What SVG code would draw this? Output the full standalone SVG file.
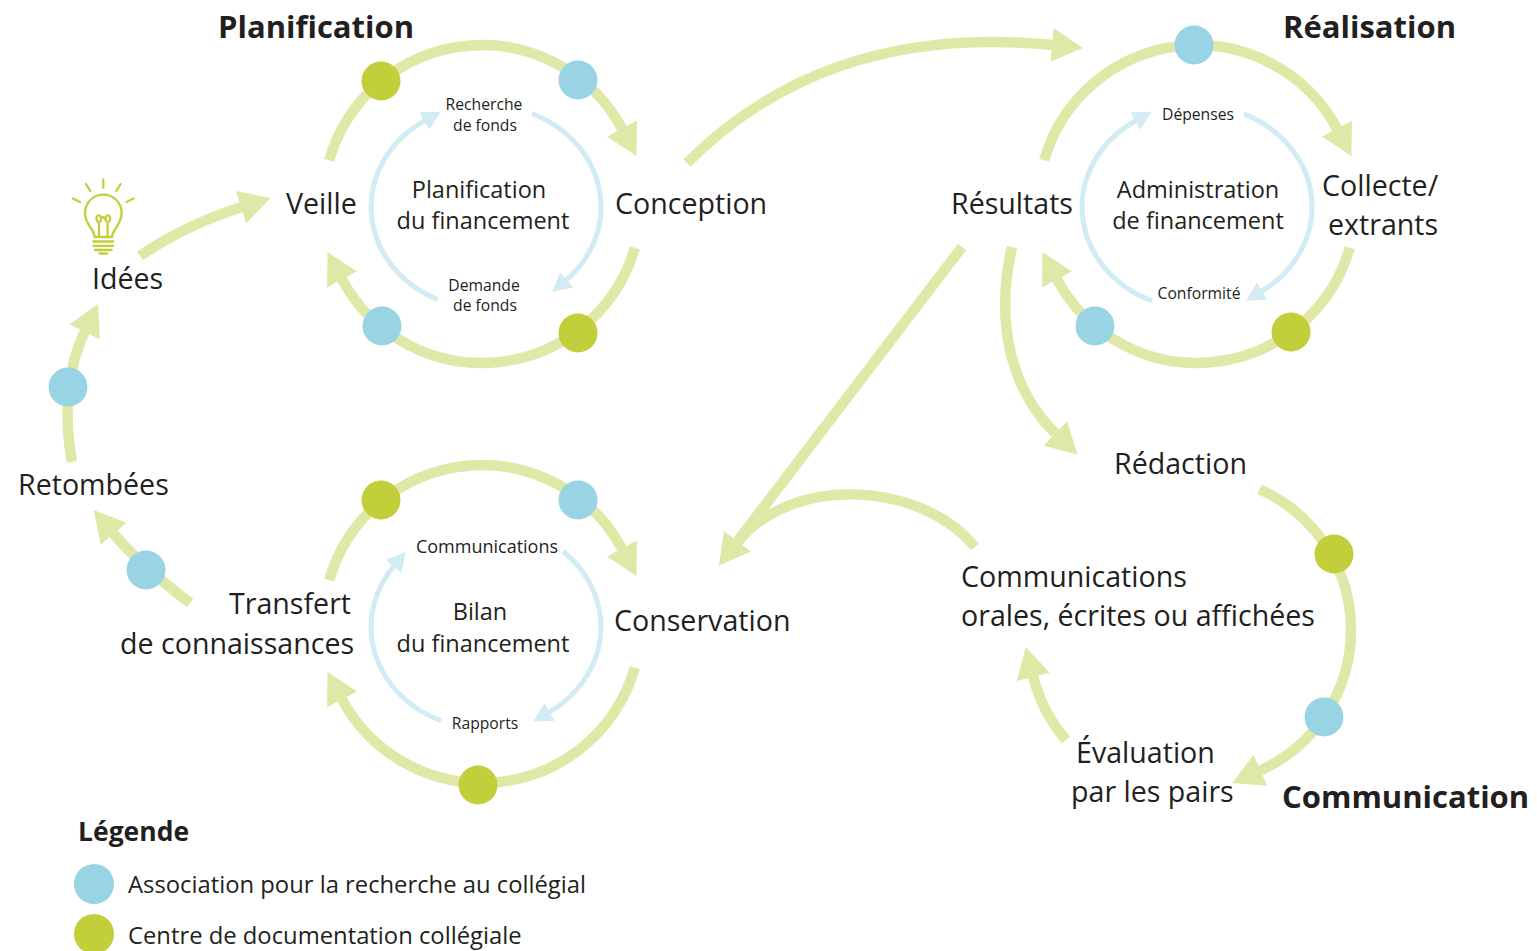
<svg xmlns="http://www.w3.org/2000/svg" width="1537" height="951" viewBox="0 0 1537 951">
<defs>
<style>
.g{fill:none;stroke:#e0e8a8;stroke-width:10.5}
.b{fill:none;stroke:#d2ebf4;stroke-width:5}
.t{font-family:"Open Sans","Noto Sans",sans-serif;fill:#231f20}
.main{font-size:28.6px}
.ttl{font-size:31px;font-weight:700}
.inn{font-size:23.5px}
.sm{font-size:15.7px}
.leg{font-size:23.8px}
.mid{text-anchor:middle}
.dg{fill:#c2cf3a}
.db{fill:#99d4e4}
.bulb{fill:none;stroke:#c2cf3a;stroke-width:2.3;stroke-linecap:round;stroke-linejoin:round}
</style>
<marker id="ag" viewBox="0 -17 31 34" refX="1" refY="0" markerWidth="31" markerHeight="34" orient="auto" markerUnits="userSpaceOnUse"><path d="M0,-17 L31,0 L0,17 Z" fill="#e0e8a8"/></marker>
<marker id="ab" viewBox="0 -10 19 20" refX="1" refY="0" markerWidth="19" markerHeight="20" orient="auto" markerUnits="userSpaceOnUse"><path d="M0,-10 L19,0 L0,10 Z" fill="#d2ebf4"/></marker>
</defs>
<rect width="1537" height="951" fill="#ffffff"/>

<g id="connectors">
<!-- Planification cycle -->
<path class="g" d="M329.2,160.2 A159,159 0 0 1 622.4,129.4" marker-end="url(#ag)"/>
<path class="g" d="M634.8,247.8 A159,159 0 0 1 341.6,278.6" marker-end="url(#ag)"/>
<path class="b" d="M437.4,299.4 A115,102 0 0 1 425.1,120.5" marker-end="url(#ab)"/>
<path class="b" d="M532,113.5 A115,102 0 0 1 565.9,280.4" marker-end="url(#ab)"/>
<!-- Réalisation cycle -->
<path class="g" d="M1044.2,160.2 A159,159 0 0 1 1337.4,129.4" marker-end="url(#ag)"/>
<path class="g" d="M1349.8,247.8 A159,159 0 0 1 1056.6,278.6" marker-end="url(#ag)"/>
<path class="b" d="M1152.1,300.9 A115,102 0 0 1 1136.1,120.5" marker-end="url(#ab)"/>
<path class="b" d="M1243.8,113.8 A115,102 0 0 1 1261.3,291.6" marker-end="url(#ab)"/>
<!-- Bilan cycle -->
<path class="g" d="M329.2,580.2 A159,159 0 0 1 622.4,549.4" marker-end="url(#ag)"/>
<path class="g" d="M634.8,667.8 A159,159 0 0 1 341.6,698.6" marker-end="url(#ag)"/>
<path class="b" d="M441.1,720.9 A115,102 0 0 1 394.2,565.6" marker-end="url(#ab)"/>
<path class="b" d="M563,551.2 A115,102 0 0 1 548.6,712.5" marker-end="url(#ab)"/>
<!-- Links -->
<path class="g" d="M140,256 Q185,225 242,207" marker-end="url(#ag)"/>
<path class="g" d="M72,462 C64,420 66,370 85,331" marker-end="url(#ag)"/>
<path class="g" d="M190,603 Q140,565 113,533" marker-end="url(#ag)"/>
<path class="g" d="M687,163 C780,70 900,30 1053,45" marker-end="url(#ag)"/>
<path class="g" d="M962,247 L737,542" marker-end="url(#ag)"/>
<path class="g" d="M975,547 C920,480 790,475 737,543"/>
<path class="g" d="M1012,247 C995,320 1010,390 1056,434" marker-end="url(#ag)"/>
<path class="g" d="M1259.6,489.3 A154,154 0 0 1 1259.6,770.7" marker-end="url(#ag)"/>
<path class="g" d="M1066,740 Q1042,712 1033,676" marker-end="url(#ag)"/>
</g>

<g id="dots">
<circle class="dg" cx="381" cy="81" r="19.5"/>
<circle class="db" cx="578" cy="80" r="19.5"/>
<circle class="db" cx="382" cy="326" r="19.5"/>
<circle class="dg" cx="578" cy="333" r="19.5"/>
<circle class="db" cx="1194" cy="45" r="19.5"/>
<circle class="db" cx="1095" cy="326" r="19.5"/>
<circle class="dg" cx="1291" cy="332" r="19.5"/>
<circle class="dg" cx="381" cy="500" r="19.5"/>
<circle class="db" cx="578" cy="500" r="19.5"/>
<circle class="dg" cx="478" cy="785" r="19.5"/>
<circle class="dg" cx="1334" cy="554" r="19.5"/>
<circle class="db" cx="1324" cy="717" r="19.5"/>
<circle class="db" cx="68" cy="387" r="19.5"/>
<circle class="db" cx="146" cy="570" r="19.5"/>
</g>

<g id="title-planification"><text class="t ttl" x="218" y="38">Planification</text></g>
<g id="title-realisation"><text class="t ttl" x="1283" y="38">Réalisation</text></g>
<g id="title-communication"><text class="t ttl" x="1282" y="808">Communication</text></g>

<g id="node-idees">
<g class="bulb">
<path d="M73,198.5 L80,202 M86,184 L90.3,191 M103.3,179.5 L103.3,187.8 M120.6,184 L116.3,191 M133.6,198.5 L126.6,202"/>
<path d="M94.5,237 C94.5,229 85,225 85,213 A18.3,18.3 0 1 1 121.6,213 C121.6,225 112.1,229 112.1,237 Z"/>
<path d="M93.5,241.5 H113.1 M93.5,245.8 H113.1 M95,250 H111.6 M99.5,253.5 H107"/>
<path d="M99,237 V223 C95,220 96,214.5 99.5,215.5 C101,216 101.5,219 100.5,221 M100.5,221 C101,216 105.5,216 106,221 M106,221 C105,219 105.6,216 107.1,215.5 C110.6,214.5 111.6,220 107.6,223 V237"/>
</g>
<text class="t main" x="92" y="289">Idées</text>
</g>
<g id="node-veille"><text class="t main" x="286" y="214">Veille</text></g>
<g id="node-conception"><text class="t main" x="615" y="214">Conception</text></g>
<g id="node-planif-financement">
<text class="t inn mid" x="479" y="198">Planification</text>
<text class="t inn mid" x="483" y="229">du financement</text>
</g>
<g id="node-recherche-fonds">
<text class="t sm mid" x="484" y="110">Recherche</text>
<text class="t sm mid" x="485" y="131">de fonds</text>
</g>
<g id="node-demande-fonds">
<text class="t sm mid" x="484" y="291">Demande</text>
<text class="t sm mid" x="485" y="311">de fonds</text>
</g>

<g id="node-resultats"><text class="t main" x="951" y="214">Résultats</text></g>
<g id="node-collecte">
<text class="t main" x="1322" y="196">Collecte/</text>
<text class="t main" x="1328" y="235">extrants</text>
</g>
<g id="node-admin-financement">
<text class="t inn mid" x="1198" y="198">Administration</text>
<text class="t inn mid" x="1198" y="229">de financement</text>
</g>
<g id="node-depenses"><text class="t sm mid" x="1198" y="120">Dépenses</text></g>
<g id="node-conformite"><text class="t sm mid" x="1199" y="299">Conformité</text></g>

<g id="node-retombees"><text class="t main" x="18" y="495">Retombées</text></g>
<g id="node-transfert">
<text class="t main" x="229" y="614">Transfert</text>
<text class="t main" x="120" y="654">de connaissances</text>
</g>
<g id="node-conservation"><text class="t main" x="614" y="631">Conservation</text></g>
<g id="node-bilan-financement">
<text class="t inn mid" x="480" y="620">Bilan</text>
<text class="t inn mid" x="483" y="652">du financement</text>
</g>
<g id="node-communications-small"><text class="t mid" style="font-size:18px" x="487" y="553">Communications</text></g>
<g id="node-rapports"><text class="t sm mid" x="485" y="729">Rapports</text></g>

<g id="node-redaction"><text class="t main" x="1114" y="474">Rédaction</text></g>
<g id="node-communications">
<text class="t main" x="961" y="587">Communications</text>
<text class="t main" x="961" y="626">orales, écrites ou affichées</text>
</g>
<g id="node-evaluation">
<text class="t main" x="1076" y="763">Évaluation</text>
<text class="t main" x="1071" y="802">par les pairs</text>
</g>

<g id="legend">
<text class="t" style="font-size:26.5px;font-weight:700" x="78" y="841">Légende</text>
<circle class="db" cx="94" cy="884" r="20"/>
<text class="t leg" x="128" y="893">Association pour la recherche au collégial</text>
<circle class="dg" cx="94" cy="934" r="20"/>
<text class="t leg" x="128" y="944">Centre de documentation collégiale</text>
</g>
</svg>
